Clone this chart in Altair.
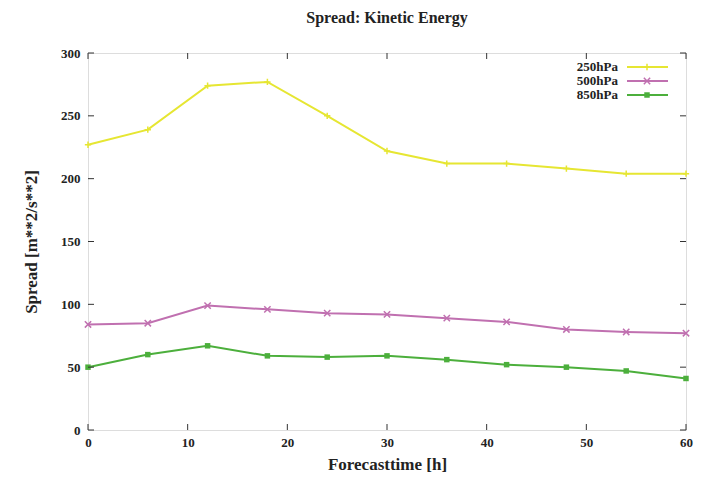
import altair as alt
import pandas as pd

times = [0, 6, 12, 18, 24, 30, 36, 42, 48, 54, 60]
s250 = [227, 239, 274, 277, 250, 222, 212, 212, 208, 204, 204]
s500 = [84, 85, 99, 96, 93, 92, 89, 86, 80, 78, 77]
s850 = [50, 60, 67, 59, 58, 59, 56, 52, 50, 47, 41]
series = ["250hPa", "500hPa", "850hPa"]
colors = ["#e6e632", "#c070b0", "#4caf3c"]
shapes = ["M-1,0L1,0M0,-1L0,1", "M-1,-1L1,1M-1,1L1,-1", "square"]
xticks = [0, 10, 20, 30, 40, 50, 60]
yticks = [0, 50, 100, 150, 200, 250, 300]

W, H = 598, 377
FONT = "Liberation Serif"

rows = []
for name, vals in zip(series, [s250, s500, s850]):
    for t, v in zip(times, vals):
        rows.append({"t": t, "v": v, "series": name})
df = pd.DataFrame(rows)

xscale = alt.Scale(domain=[0, 60], nice=False)
yscale = alt.Scale(domain=[0, 300], nice=False)

layers = []
for name, col, shp in zip(series, colors, shapes):
    sub = df[df.series == name]
    base = alt.Chart(sub)
    line = base.mark_line(color=col, strokeWidth=2).encode(
        x=alt.X("t:Q", scale=xscale,
                axis=alt.Axis(title="Forecasttime [h]", values=xticks, ticks=False,
                              grid=False, domain=False, labelPadding=6, labelFlush=False,
                              labelFont=FONT, labelFontSize=13, labelFontWeight="bold",
                              labelColor="#222", titleFont=FONT, titleFontSize=17,
                              titleFontWeight="bold", titleColor="#222", titlePadding=7)),
        y=alt.Y("v:Q", scale=yscale,
                axis=alt.Axis(title="Spread [m**2/s**2]", values=yticks, ticks=False,
                              grid=False, domain=False, labelPadding=8, labelFlush=False,
                              labelFont=FONT, labelFontSize=13, labelFontWeight="bold",
                              labelColor="#222", titleFont=FONT, titleFontSize=17,
                              titleFontWeight="bold", titleColor="#222", titlePadding=20)),
    )
    if shp == "square":
        pts = base.mark_point(shape="square", filled=True, color=col, size=30, opacity=1).encode(
            x=alt.X("t:Q", scale=xscale), y=alt.Y("v:Q", scale=yscale))
    else:
        pts = base.mark_point(shape=shp, filled=False, color=col, size=40, strokeWidth=1.5,
                              opacity=1).encode(
            x=alt.X("t:Q", scale=xscale), y=alt.Y("v:Q", scale=yscale))
    layers += [line, pts]

# inward ticks on all four sides
xt = pd.DataFrame({"t": xticks})
yt = pd.DataFrame({"v": yticks})
tick_col = "#333"
layers.append(alt.Chart(xt).mark_rule(color=tick_col).encode(
    x=alt.X("t:Q", scale=xscale), y=alt.value(H), y2=alt.value(H - 6)))
layers.append(alt.Chart(xt).mark_rule(color=tick_col).encode(
    x=alt.X("t:Q", scale=xscale), y=alt.value(0), y2=alt.value(6)))
layers.append(alt.Chart(yt).mark_rule(color=tick_col).encode(
    y=alt.Y("v:Q", scale=yscale), x=alt.value(0), x2=alt.value(6)))
layers.append(alt.Chart(yt).mark_rule(color=tick_col).encode(
    y=alt.Y("v:Q", scale=yscale), x=alt.value(W), x2=alt.value(W - 6)))

# manual legend (labels left of sample lines, gnuplot style)
for i, (name, col, shp) in enumerate(zip(series, colors, shapes)):
    yy = 14 + 14 * i
    one = pd.DataFrame({"series": [name]})
    layers.append(alt.Chart(one).mark_text(align="right", baseline="middle", font=FONT,
                                           fontSize=13, fontWeight="bold", color="#222").encode(
        text="series:N", x=alt.value(530), y=alt.value(yy)))
    layers.append(alt.Chart(one).mark_rule(color=col, strokeWidth=2).encode(
        x=alt.value(539), x2=alt.value(580), y=alt.value(yy)))
    if shp == "square":
        layers.append(alt.Chart(one).mark_point(shape="square", filled=True, color=col,
                                                size=30, opacity=1).encode(
            x=alt.value(559), y=alt.value(yy)))
    else:
        layers.append(alt.Chart(one).mark_point(shape=shp, filled=False, color=col, size=40,
                                                strokeWidth=1.5, opacity=1).encode(
            x=alt.value(559), y=alt.value(yy)))

chart = alt.layer(*layers).properties(
    width=W, height=H,
    title=alt.TitleParams("Spread: Kinetic Energy", font=FONT, fontSize=16,
                          fontWeight="bold", color="#222", offset=21),
    autosize=alt.AutoSizeParams(type="none"),
    padding={"left": 80, "top": 45, "right": 15, "bottom": 50},
).configure_view(stroke="#222", strokeWidth=1.2).configure(background="white")

chart.save("out.html", embed_options={"renderer": "svg", "actions": False})
